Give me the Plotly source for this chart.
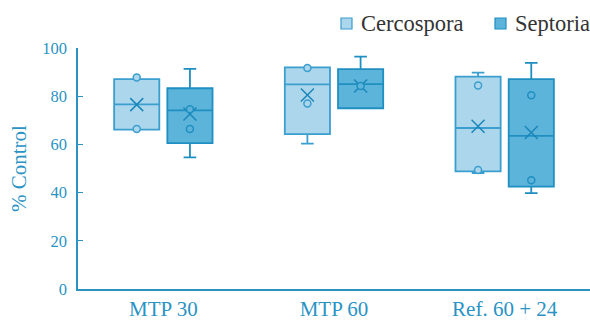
import plotly.graph_objects as go

categories = ["MTP 30", "MTP 60", "Ref. 60 + 24"]
series_names = ["Cercospora", "Septoria"]

# Box statistics per series, one value per category
q1 = {"Cercospora": [66.1, 64.3, 48.8], "Septoria": [60.5, 75.0, 42.5]}
median = {"Cercospora": [76.6, 84.9, 66.8], "Septoria": [74.1, 85.0, 63.5]}
q3 = {"Cercospora": [87.1, 92.0, 88.1], "Septoria": [83.3, 91.2, 87.1]}
lowerfence = {"Cercospora": [66.1, 60.3, 48.1], "Septoria": [54.6, 75.0, 39.8]}
upperfence = {"Cercospora": [87.1, 92.0, 89.8], "Septoria": [91.3, 96.4, 93.8]}
means = {"Cercospora": [76.5, 80.5, 67.5], "Septoria": [72.6, 84.2, 64.9]}
# Inner points shown as circles
inner_points = {
    "Cercospora": [[87.8, 66.4], [91.7, 77.0], [84.4, 49.4]],
    "Septoria": [[74.6, 66.4], [84.2], [80.4, 45.1]],
}
y_ticks = [0, 20, 40, 60, 80, 100]

fills = {"Cercospora": "#acd6eb", "Septoria": "#5db4da"}
lines = {"Cercospora": "#3a9ecf", "Septoria": "#1f8fc1"}
axis_color = "#2a93c4"
font_family = "Liberation Serif"

W, H = 590, 320
ML, MR, MT, MB = 78, 0, 48, 31
PW, PH = W - ML - MR, H - MT - MB

offset = 53 / 170 / 2
box_w = 45 / 170
offsets = {"Cercospora": -offset, "Septoria": offset}

fig = go.Figure()
for name in series_names:
    xs = [i + offsets[name] for i in range(len(categories))]
    fig.add_trace(go.Box(
        name=name, x=xs,
        q1=q1[name], median=median[name], q3=q3[name],
        lowerfence=lowerfence[name], upperfence=upperfence[name],
        width=box_w, whiskerwidth=0.28,
        fillcolor=fills[name],
        line=dict(color=lines[name], width=1.8),
        marker=dict(opacity=0),
        boxpoints=False, hoverinfo="skip", showlegend=False,
    ))
for name in series_names:
    xs = [i + offsets[name] for i in range(len(categories))]
    fig.add_trace(go.Scatter(
        x=xs, y=means[name], mode="markers", showlegend=False,
        marker=dict(symbol="x-thin", size=13, line=dict(color="#1b86b9", width=1.5)),
        hoverinfo="skip",
    ))
    px, py = [], []
    for i, pts in enumerate(inner_points[name]):
        for v in pts:
            px.append(i + offsets[name])
            py.append(v)
    fig.add_trace(go.Scatter(
        x=px, y=py, mode="markers", showlegend=False,
        marker=dict(symbol="circle", size=7, color=fills[name],
                    line=dict(color=lines[name], width=1.5)),
        hoverinfo="skip",
    ))

# Manual legend (square + label), positions in pixels converted to paper coords
legend_pos = {"Cercospora": 341, "Septoria": 495}
def px2x(p):
    return (p - ML) / PW
def py2y(p):
    return (H - MB - p) / PH
for name in series_names:
    x0 = legend_pos[name]
    fig.add_shape(type="rect", xref="paper", yref="paper",
                  x0=px2x(x0), x1=px2x(x0 + 11), y0=py2y(29), y1=py2y(18),
                  fillcolor=fills[name], line=dict(color=lines[name], width=1.2))
    fig.add_annotation(xref="paper", yref="paper", x=px2x(x0 + 18), y=py2y(23.5),
                       xanchor="left", yanchor="middle", text=name, showarrow=False,
                       font=dict(size=22.5, color="#333333", family=font_family))

fig.update_layout(
    width=W, height=H,
    margin=dict(l=ML, r=MR, t=MT, b=MB, autoexpand=False),
    plot_bgcolor="white", paper_bgcolor="white",
    font=dict(family=font_family, color=axis_color),
    showlegend=False,
    xaxis=dict(range=[-0.5, 2.5], tickvals=list(range(len(categories))), ticktext=categories,
               showline=True, linecolor=axis_color, linewidth=1.5, ticks="",
               showgrid=False, zeroline=False,
               tickfont=dict(size=21, color=axis_color, family=font_family)),
    yaxis=dict(range=[0, 100], tickvals=y_ticks, showline=True, linecolor=axis_color, linewidth=1.5,
               ticks="inside", ticklen=5, tickcolor=axis_color, tickwidth=1.2,
               showgrid=False, zeroline=False, ticklabelstandoff=6,
               tickfont=dict(size=16.5, color=axis_color, family=font_family),
               title=dict(text="% Control", font=dict(size=21, color=axis_color, family=font_family),
                          standoff=10)),
)

fig.write_html("out.html", config={"displayModeBar": False},
               post_script="document.body.style.margin='0';document.body.style.overflow='hidden';")
